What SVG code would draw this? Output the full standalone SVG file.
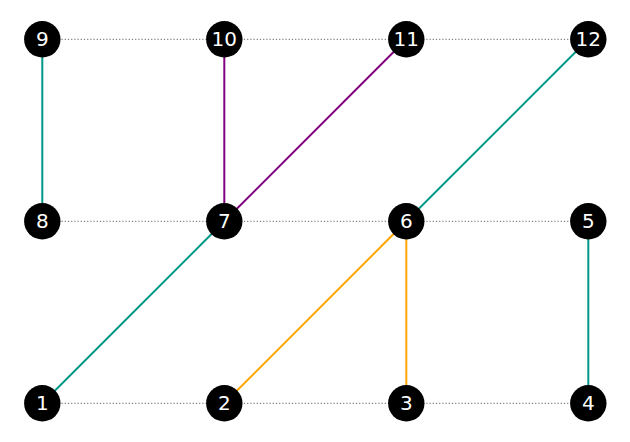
<svg xmlns="http://www.w3.org/2000/svg" width="630" height="442" viewBox="0 0 630 442">
<style>
.dot{stroke:#808080;stroke-width:1.2;stroke-dasharray:1.2,2;fill:none}
.e{stroke-width:2;fill:none}
.t{stroke:#009988}.p{stroke:#800080}.o{stroke:#FFA500}
circle{fill:#000}
text{fill:#fff;font-family:"DejaVu Sans",sans-serif;font-size:20px;text-anchor:middle}
</style>
<rect width="630" height="442" fill="#fff"/>
<g id="connectors">
<path class="dot" d="M42.3 39.3H588.3M42.3 221.3H588.3M42.3 403.3H588.3"/>
<line class="e t" x1="42.3" y1="39.3" x2="42.3" y2="221.3"/>
<line class="e p" x1="224.3" y1="39.3" x2="224.3" y2="221.3"/>
<line class="e p" x1="406.3" y1="39.3" x2="224.3" y2="221.3"/>
<line class="e t" x1="588.3" y1="39.3" x2="406.3" y2="221.3"/>
<line class="e t" x1="224.3" y1="221.3" x2="42.3" y2="403.3"/>
<line class="e o" x1="406.3" y1="221.3" x2="224.3" y2="403.3"/>
<line class="e o" x1="406.3" y1="221.3" x2="406.3" y2="403.3"/>
<line class="e t" x1="588.3" y1="221.3" x2="588.3" y2="403.3"/>
</g>
<g id="n9"><circle cx="42.3" cy="39.3" r="18.2"/><text x="42.3" y="45.6">9</text></g>
<g id="n10"><circle cx="224.3" cy="39.3" r="18.2"/><text x="224.3" y="45.6">10</text></g>
<g id="n11"><circle cx="406.3" cy="39.3" r="18.2"/><text x="406.3" y="45.6">11</text></g>
<g id="n12"><circle cx="588.3" cy="39.3" r="18.2"/><text x="588.3" y="45.6">12</text></g>
<g id="n8"><circle cx="42.3" cy="221.3" r="18.2"/><text x="42.3" y="227.6">8</text></g>
<g id="n7"><circle cx="224.3" cy="221.3" r="18.2"/><text x="224.3" y="227.6">7</text></g>
<g id="n6"><circle cx="406.3" cy="221.3" r="18.2"/><text x="406.3" y="227.6">6</text></g>
<g id="n5"><circle cx="588.3" cy="221.3" r="18.2"/><text x="588.3" y="227.6">5</text></g>
<g id="n1"><circle cx="42.3" cy="403.3" r="18.2"/><text x="42.3" y="409.6">1</text></g>
<g id="n2"><circle cx="224.3" cy="403.3" r="18.2"/><text x="224.3" y="409.6">2</text></g>
<g id="n3"><circle cx="406.3" cy="403.3" r="18.2"/><text x="406.3" y="409.6">3</text></g>
<g id="n4"><circle cx="588.3" cy="403.3" r="18.2"/><text x="588.3" y="409.6">4</text></g>
</svg>
